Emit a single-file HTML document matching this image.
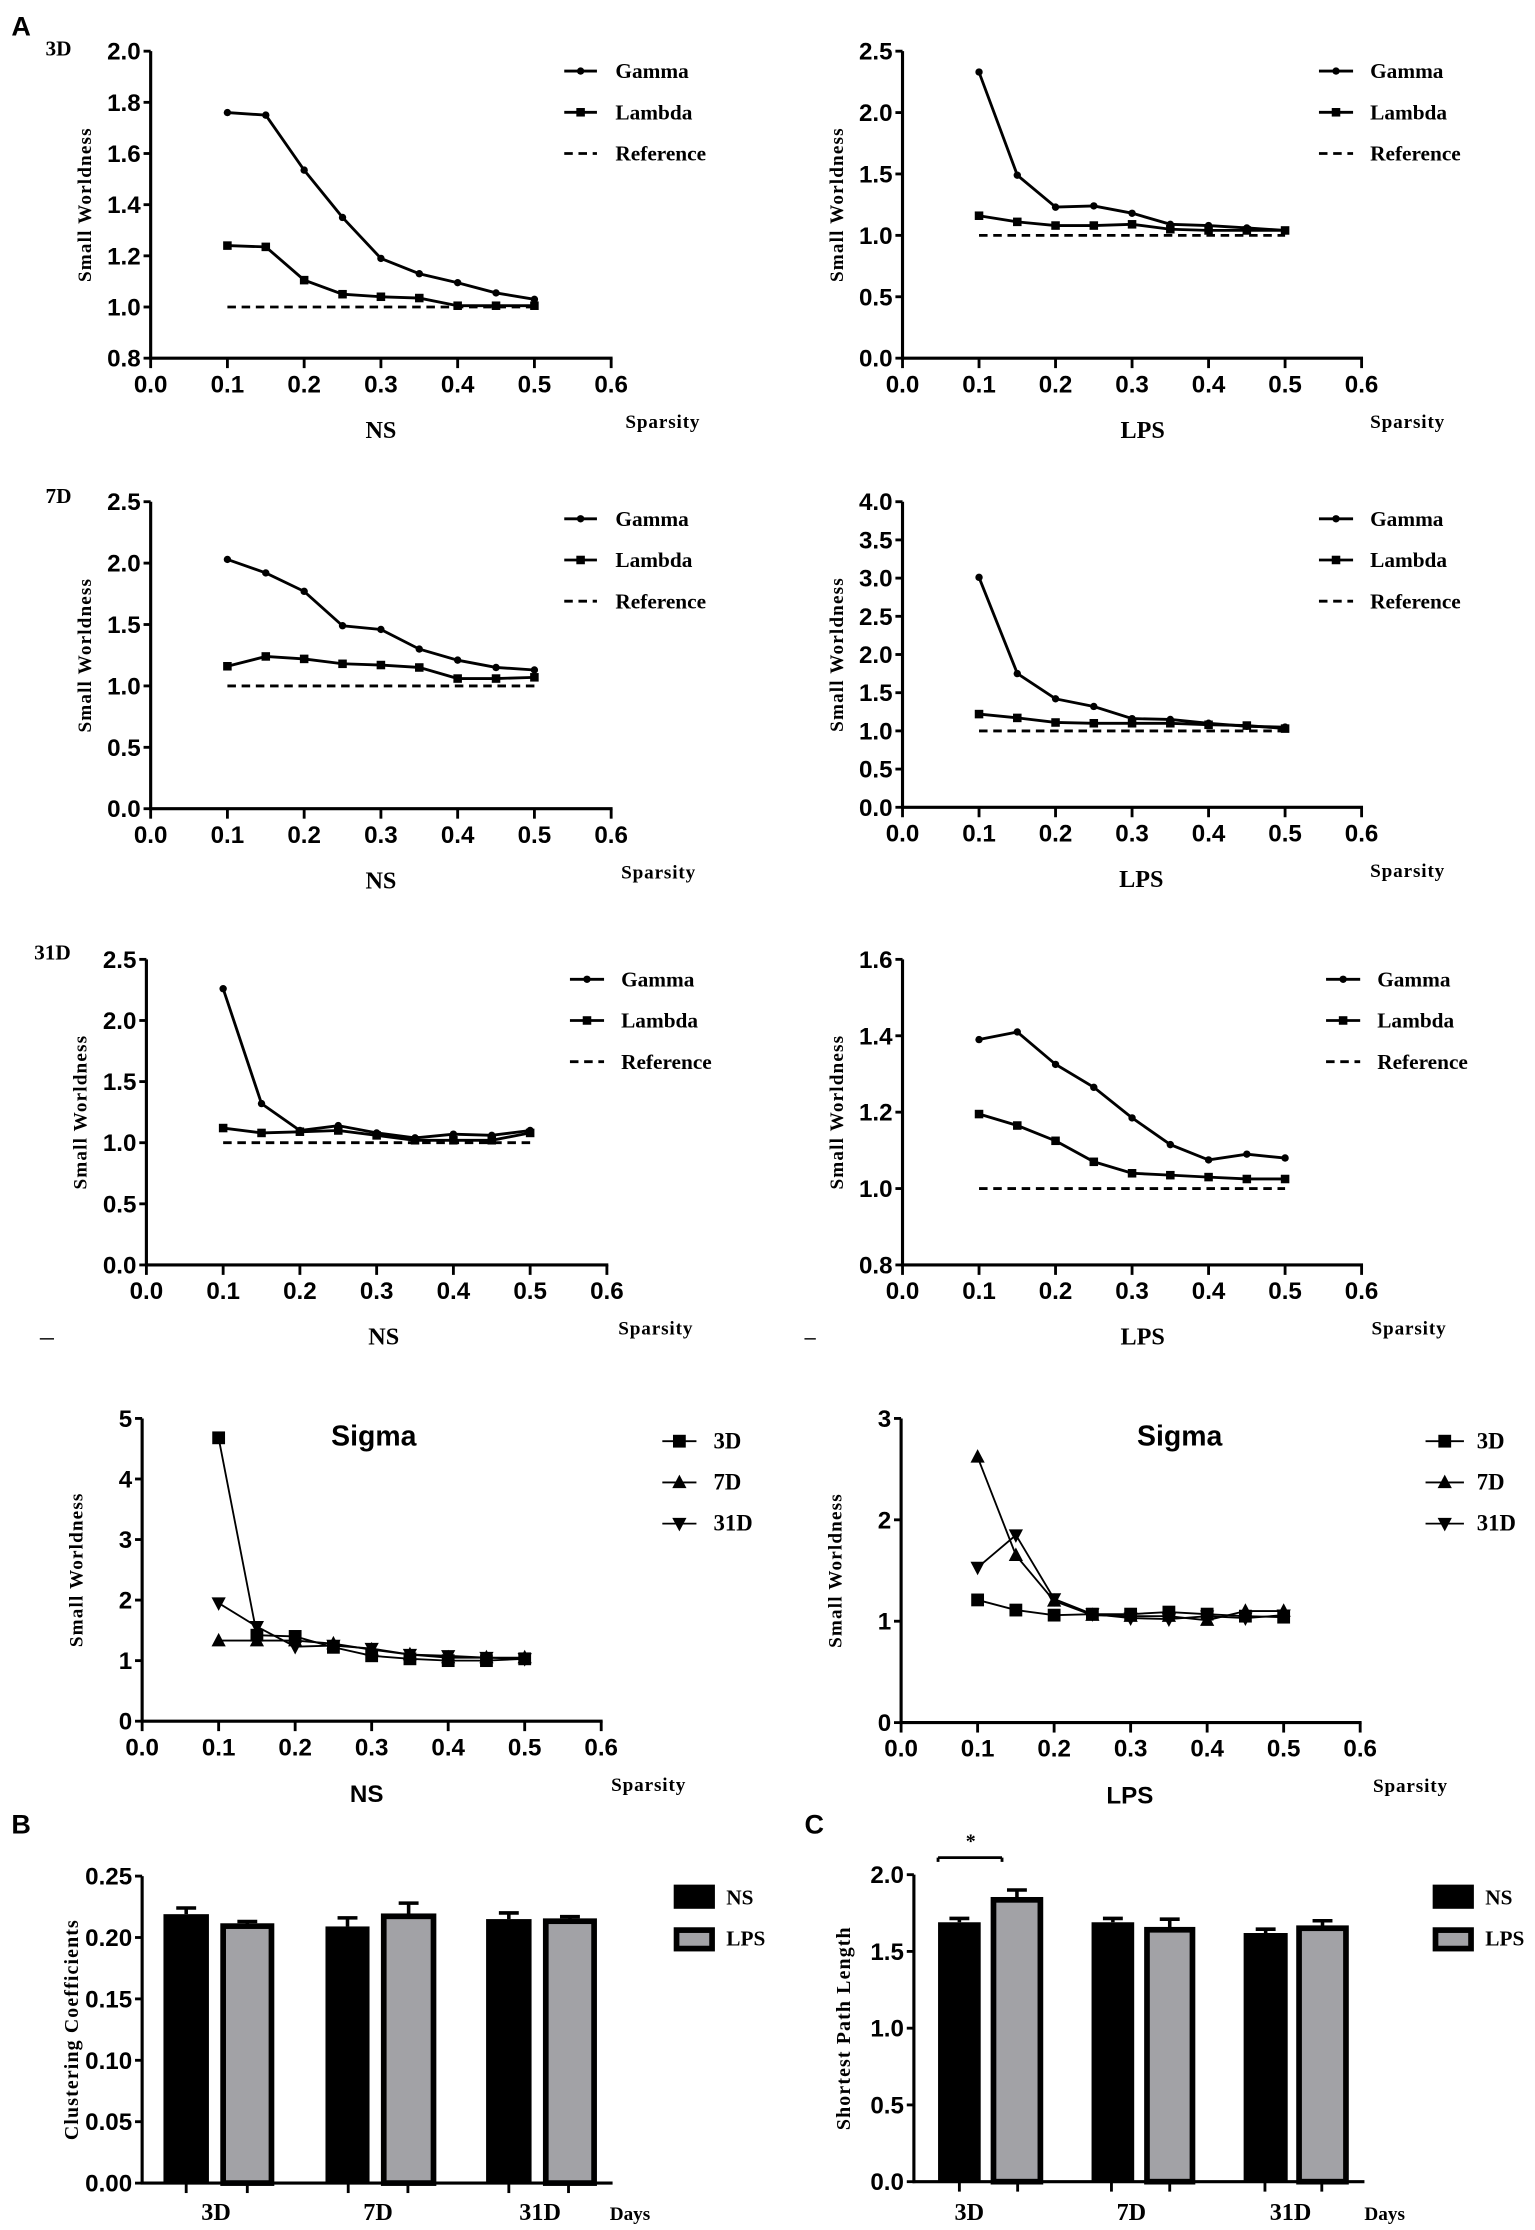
<!DOCTYPE html>
<html><head><meta charset="utf-8"><style>
html,body{margin:0;padding:0;background:#fff;}
svg{display:block}
.tk{font-family:"Liberation Sans Narrow","Liberation Sans",sans-serif;font-weight:bold;font-size:17px;}
.sf{font-family:"Liberation Serif",serif;font-weight:bold;}
.ss{font-family:"Liberation Sans",sans-serif;font-weight:bold;}
</style></head><body>
<svg id="s" width="1535" height="2230" viewBox="0 0 1080 1569" xmlns="http://www.w3.org/2000/svg"></svg>
<script>
var S=document.getElementById('s');var h='';
function L(x1,y1,x2,y2,w,d){h+='<line x1="'+x1+'" y1="'+y1+'" x2="'+x2+'" y2="'+y2+'" stroke="#000" stroke-width="'+(w||2)+'"'+(d?' stroke-dasharray="'+d+'"':'')+'/>';}
function T(x,y,t,c,sz,a,extra){h+='<text x="'+x+'" y="'+y+'" class="'+c+'" font-size="'+sz+'" text-anchor="'+(a||'start')+'" '+(extra||'')+'>'+t+'</text>';}
function mark(t,x,y,s){
 if(t=='d')h+='<circle cx="'+x+'" cy="'+y+'" r="2.6"/>';
 else if(t=='q')h+='<rect x="'+(x-3)+'" y="'+(y-3)+'" width="6" height="6"/>';
 else if(t=='Q')h+='<rect x="'+(x-4.5)+'" y="'+(y-4.5)+'" width="9" height="9"/>';
 else if(t=='u')h+='<polygon points="'+x+','+(y-5.5)+' '+(x-5)+','+(y+4)+' '+(x+5)+','+(y+4)+'"/>';
 else if(t=='v')h+='<polygon points="'+x+','+(y+5.5)+' '+(x-5)+','+(y-4)+' '+(x+5)+','+(y-4)+'"/>';
}
var XS=[.1,.15,.2,.25,.3,.35,.4,.45,.5];
function P(o){
 var X=function(v){return o.x0+(o.x6-o.x0)*v/0.6};
 var Y=function(v){return o.yB-(o.yB-o.yT)*(v-o.ymin)/(o.ymax-o.ymin)};
 L(o.x0,o.yT,o.x0,o.yB+1,2.2);L(o.x0-1,o.yB,o.x6+1,o.yB,2.2);
 for(var v=o.ymin;v<=o.ymax+1e-9;v+=o.st){var y=Y(v);L(o.x0-5,y,o.x0,y,2);T(o.x0-7,y+6,v.toFixed(o.dec),'tk',17,'end');}
 for(var i=0;i<=6;i++){var x=X(i/10);L(x,o.yB,x,o.yB+7,2);T(x,o.yB+24,(i/10).toFixed(1),'tk',17,'middle');}
 var cy=(o.yT+o.yB)/2;T(o.x0-42,cy,'Small Worldness','sf',13.5,'middle','transform="rotate(-90 '+(o.x0-42)+' '+cy+')" letter-spacing="0.8"');
 if(o.ref){L(X(.1),Y(1),X(.5),Y(1),2,'6,4');}
 o.ser.forEach(function(s){var p=s.v.map(function(v,i){return X(XS[i]).toFixed(1)+','+Y(v).toFixed(1)}).join(' ');
  h+='<polyline points="'+p+'" fill="none" stroke="#000" stroke-width="'+s.w+'"/>';
  s.v.forEach(function(v,i){mark(s.m,X(XS[i]),Y(v))});});
 o.leg.forEach(function(g,i){var y=o.ly+29*i;
  if(g[1]=='r')L(o.lx1,y,o.lx2,y,2,'6,4');else{L(o.lx1,y,o.lx2,y,g[2]||2);mark(g[1],(o.lx1+o.lx2)/2,y);}
  T(o.lx1+36,y+5,g[0],'sf',o.lfs||15);});
 if(o.sig){T(o.gx,o.yB+57,o.grp,'ss',17,'middle');}else T(o.gx,o.yB+56,o.grp,'sf',17,'middle');
 T(o.spx,o.yB+49,'Sparsity','sf',13.5,'start','letter-spacing="0.6"');
}
var GL=[['Gamma','d'],['Lambda','q'],['Reference','r']];
function GS(g,l){return [{v:g,m:'d',w:2},{v:l,m:'q',w:2}];}
P({x0:106,x6:430,yT:36,yB:252,ymin:.8,ymax:2.0,st:.2,dec:1,ref:1,ser:GS([1.76,1.75,1.535,1.35,1.19,1.13,1.095,1.055,1.03],[1.24,1.235,1.105,1.05,1.04,1.035,1.005,1.005,1.005]),leg:GL,lx1:397,lx2:420,ly:50,gx:268,grp:'NS',spx:440});
P({x0:635,x6:958,yT:36,yB:252,ymin:0,ymax:2.5,st:.5,dec:1,ref:1,ser:GS([2.33,1.49,1.23,1.24,1.18,1.09,1.08,1.06,1.04],[1.16,1.11,1.08,1.08,1.09,1.05,1.04,1.04,1.04]),leg:GL,lx1:928,lx2:952,ly:50,gx:804,grp:'LPS',spx:964});
P({x0:106,x6:430,yT:353,yB:569,ymin:0,ymax:2.5,st:.5,dec:1,ref:1,ser:GS([2.03,1.92,1.77,1.49,1.46,1.3,1.21,1.15,1.13],[1.16,1.24,1.22,1.18,1.17,1.15,1.06,1.06,1.07]),leg:GL,lx1:397,lx2:420,ly:365,gx:268,grp:'NS',spx:437});
P({x0:635,x6:958,yT:353,yB:568,ymin:0,ymax:4.0,st:.5,dec:1,ref:1,ser:GS([3.01,1.75,1.42,1.32,1.16,1.15,1.1,1.06,1.05],[1.22,1.17,1.11,1.1,1.1,1.1,1.08,1.07,1.03]),leg:GL,lx1:928,lx2:952,ly:365,gx:803,grp:'LPS',spx:964});
P({x0:103,x6:427,yT:675,yB:890,ymin:0,ymax:2.5,st:.5,dec:1,ref:1,ser:GS([2.26,1.32,1.1,1.14,1.08,1.04,1.07,1.06,1.1],[1.12,1.08,1.09,1.1,1.06,1.02,1.02,1.02,1.08]),leg:GL,lx1:401,lx2:425,ly:689,gx:270,grp:'NS',spx:435});
P({x0:635,x6:958,yT:675,yB:890,ymin:.8,ymax:1.6,st:.2,dec:1,ref:1,ser:GS([1.39,1.41,1.325,1.265,1.185,1.115,1.075,1.09,1.08],[1.195,1.165,1.125,1.07,1.04,1.035,1.03,1.025,1.025]),leg:GL,lx1:933,lx2:957,ly:689,gx:804,grp:'LPS',spx:965});
var SL=[['3D','Q',1.3],['7D','u',1.3],['31D','v',1.3]];
P({x0:100,x6:423,yT:998,yB:1211,ymin:0,ymax:5,st:1,dec:0,sig:1,ser:[{v:[4.68,1.42,1.4,1.22,1.08,1.03,1.0,1.0,1.03],m:'Q',w:1.3},{v:[1.33,1.33,1.33,1.28,1.18,1.1,1.05,1.05,1.05],m:'u',w:1.3},{v:[1.95,1.56,1.23,1.25,1.2,1.1,1.08,1.05,1.03],m:'v',w:1.3}],leg:SL,lx1:466,lx2:490,ly:1014,lfs:16,gx:258,grp:'NS',spx:430});
P({x0:634,x6:957,yT:998,yB:1212,ymin:0,ymax:3,st:1,dec:0,sig:1,ser:[{v:[1.21,1.11,1.06,1.07,1.07,1.09,1.07,1.05,1.04],m:'Q',w:1.3},{v:[2.62,1.65,1.2,1.06,1.05,1.05,1.01,1.1,1.1],m:'u',w:1.3},{v:[1.53,1.85,1.22,1.07,1.03,1.02,1.05,1.03,1.06],m:'v',w:1.3}],leg:SL,lx1:1003,lx2:1030,ly:1014,lfs:16,gx:795,grp:'LPS',spx:966});
T(263,1017,'Sigma','ss',20,'middle');T(830,1017,'Sigma','ss',20,'middle');
T(8,25,'A','ss',19);T(32,39,'3D','sf',15);T(32,354,'7D','sf',15);T(24,675,'31D','sf',15);
L(28,942,38,942,1);L(566,942,574,942,1);
T(8,1290,'B','ss',19);T(566,1290,'C','ss',19);
function B(o){
 var Y=function(v){return o.yB-(o.yB-o.yT)*v/o.ymax};
 o.bars.forEach(function(b){var top=Y(b[2]),et=Y(b[3]),cx=(b[0]+b[1])/2;
  L(cx,et,cx,top,2.5);L(cx-7,et,cx+7,et,2.5);
  if(b[4])h+='<rect x="'+(b[0]+2)+'" y="'+(top+1.5)+'" width="'+(b[1]-b[0]-4)+'" height="'+(o.yB-top-1.5)+'" fill="#a2a2a6" stroke="#000" stroke-width="4"/>';
  else h+='<rect x="'+b[0]+'" y="'+top+'" width="'+(b[1]-b[0])+'" height="'+(o.yB-top)+'" fill="#000"/>';});
 L(o.x0,o.yT,o.x0,o.yB+1,2.2);L(o.x0-1,o.yB,o.xe,o.yB,2.2);
 for(var v=0;v<=o.ymax+1e-9;v+=o.st){var y=Y(v);L(o.x0-5,y,o.x0,y,2);T(o.x0-7,y+6,v.toFixed(o.dec),'tk',17,'end');}
 o.ticks.forEach(function(x){L(x,o.yB,x,o.yB+7,2)});
 o.gl.forEach(function(g){T(g[0],1562,g[1],'sf',17,'middle')});
 T(o.dx,1562,'Days','sf',13.5);
 var cy=(o.yT+o.yB)/2;T(o.x0-45,cy,o.yl,'sf',14,'middle','transform="rotate(-90 '+(o.x0-45)+' '+cy+')" letter-spacing="0.8"');
 h+='<rect x="'+o.lx+'" y="1326" width="29" height="17" fill="#000"/>';
 h+='<rect x="'+(o.lx+2)+'" y="1358" width="25" height="13" fill="#a2a2a6" stroke="#000" stroke-width="4"/>';
 T(o.lx+37,1340,'NS','sf',15);T(o.lx+37,1369,'LPS','sf',15);
}
B({x0:100,xe:431,yT:1320,yB:1536,ymax:.25,st:.05,dec:2,bars:[[115,147,.219,.224,0],[155,193,.211,.213,1],[229,260,.209,.216,0],[268,307,.219,.228,1],[342,374,.215,.220,0],[382,420,.215,.217,1]],ticks:[131,174,245,287,358,400],gl:[[152,'3D'],[266,'7D'],[380,'31D']],dx:429,yl:'Clustering Coefficients',lx:474});
B({x0:643,xe:960,yT:1319,yB:1535,ymax:2.0,st:.5,dec:1,bars:[[660,690,1.69,1.715,0],[697,734,1.85,1.90,1],[768,798,1.69,1.715,0],[805,841,1.655,1.71,1],[875,906,1.62,1.645,0],[912,949,1.665,1.70,1]],ticks:[675,716,782,823,890,930],gl:[[682,'3D'],[796,'7D'],[908,'31D']],dx:960,yl:'Shortest Path Length',lx:1008});
L(660,1307,705,1307,2);L(660,1307,660,1310,2);L(705,1307,705,1310,2);
T(683,1300,'*','sf',14,'middle');
S.innerHTML=h;
</script>
</body></html>
